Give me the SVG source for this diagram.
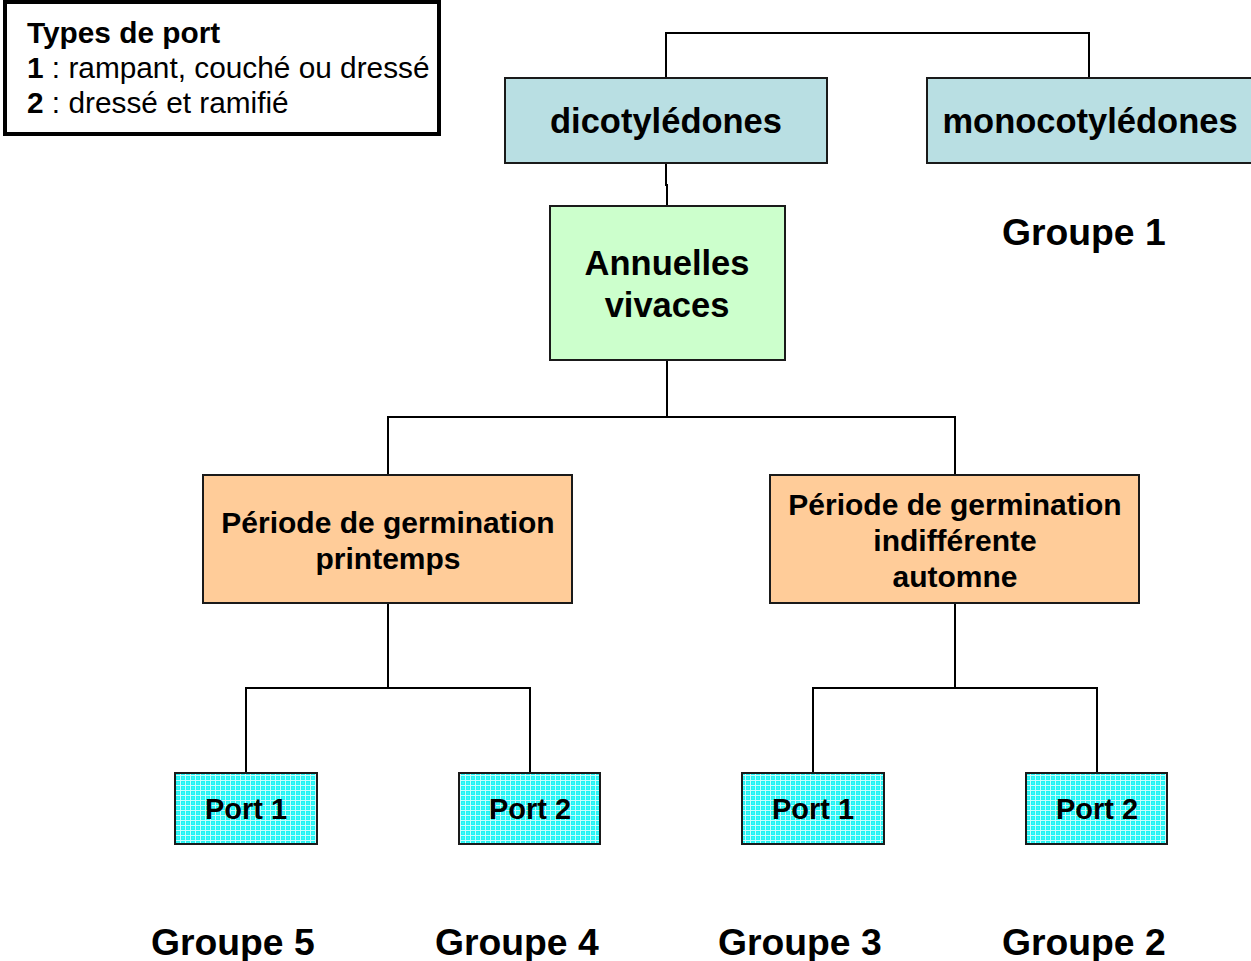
<svg xmlns="http://www.w3.org/2000/svg" width="1251" height="961" viewBox="0 0 1251 961">
<defs>
<pattern id="grid" width="5" height="5" patternUnits="userSpaceOnUse">
<rect width="5" height="5" fill="#1ff5f5"/>
<path d="M0 0.5H5M0.5 0V5" stroke="#ffffff" stroke-width="1" opacity="0.75"/>
<rect x="2.5" y="2.5" width="1" height="1" fill="#ffffff" opacity="0.5"/>
</pattern>
</defs>
<style>
.box{stroke:#1a1a1a;stroke-width:2}
.t{font-family:"Liberation Sans",Arial,sans-serif;font-weight:bold;fill:#000;text-anchor:middle}
.big{font-size:34.5px}
.mid{font-size:30px}
.port{font-size:29px}
.grp{font-family:"Liberation Sans",Arial,sans-serif;font-weight:bold;fill:#000;font-size:37.3px}
.leg{font-family:"Liberation Sans",Arial,sans-serif;font-size:29.8px;fill:#000}
.ln{fill:none;stroke:#000;stroke-width:2}
</style>
<rect width="1251" height="961" fill="#ffffff"/>
<g id="connectors">
<path class="ln" d="M666 78V33H1089V78"/>
<path class="ln" d="M666 163V185H667V206"/>
<path class="ln" d="M667 360V417M388 475V417H955V475"/>
<path class="ln" d="M388 603V688M246 773V688H530V773"/>
<path class="ln" d="M955 603V688M813 773V688H1097V773"/>
</g>
<g id="legend">
<rect x="5" y="2" width="434" height="132" fill="#ffffff" stroke="#000" stroke-width="4"/>
<text class="leg" x="27" y="43" font-weight="bold">Types de port</text>
<text class="leg" x="27" y="78"><tspan font-weight="bold">1</tspan> : rampant, couché ou dressé</text>
<text class="leg" x="27" y="113"><tspan font-weight="bold">2</tspan> : dressé et ramifié</text>
</g>
<g id="dicot">
<rect class="box" x="505" y="78" width="322" height="85" fill="#b9dfe3"/>
<text class="t big" x="666" y="133">dicotylédones</text>
</g>
<g id="monocot">
<rect class="box" x="927" y="78" width="330" height="85" fill="#b9dfe3"/>
<text class="t big" x="1090" y="133">monocotylédones</text>
</g>
<g id="groupe1">
<text class="grp" x="1002" y="245">Groupe 1</text>
</g>
<g id="annuelles">
<rect class="box" x="550" y="206" width="235" height="154" fill="#ccffcc"/>
<text class="t big" x="667" y="275">Annuelles</text>
<text class="t big" x="667" y="317">vivaces</text>
</g>
<g id="periode-printemps">
<rect class="box" x="203" y="475" width="369" height="128" fill="#ffcc99"/>
<text class="t mid" x="388" y="533">Période de germination</text>
<text class="t mid" x="388" y="569">printemps</text>
</g>
<g id="periode-automne">
<rect class="box" x="770" y="475" width="369" height="128" fill="#ffcc99"/>
<text class="t mid" x="955" y="515">Période de germination</text>
<text class="t mid" x="955" y="551">indifférente</text>
<text class="t mid" x="955" y="587">automne</text>
</g>
<g id="port1-left">
<rect class="box" x="175" y="773" width="142" height="71" fill="url(#grid)"/>
<text class="t port" x="246" y="819">Port 1</text>
</g>
<g id="port2-left">
<rect class="box" x="459" y="773" width="141" height="71" fill="url(#grid)"/>
<text class="t port" x="530" y="819">Port 2</text>
</g>
<g id="port1-right">
<rect class="box" x="742" y="773" width="142" height="71" fill="url(#grid)"/>
<text class="t port" x="813" y="819">Port 1</text>
</g>
<g id="port2-right">
<rect class="box" x="1026" y="773" width="141" height="71" fill="url(#grid)"/>
<text class="t port" x="1097" y="819">Port 2</text>
</g>
<g id="groupes">
<text class="grp" x="151" y="955">Groupe 5</text>
<text class="grp" x="435" y="955">Groupe 4</text>
<text class="grp" x="718" y="955">Groupe 3</text>
<text class="grp" x="1002" y="955">Groupe 2</text>
</g>
</svg>
